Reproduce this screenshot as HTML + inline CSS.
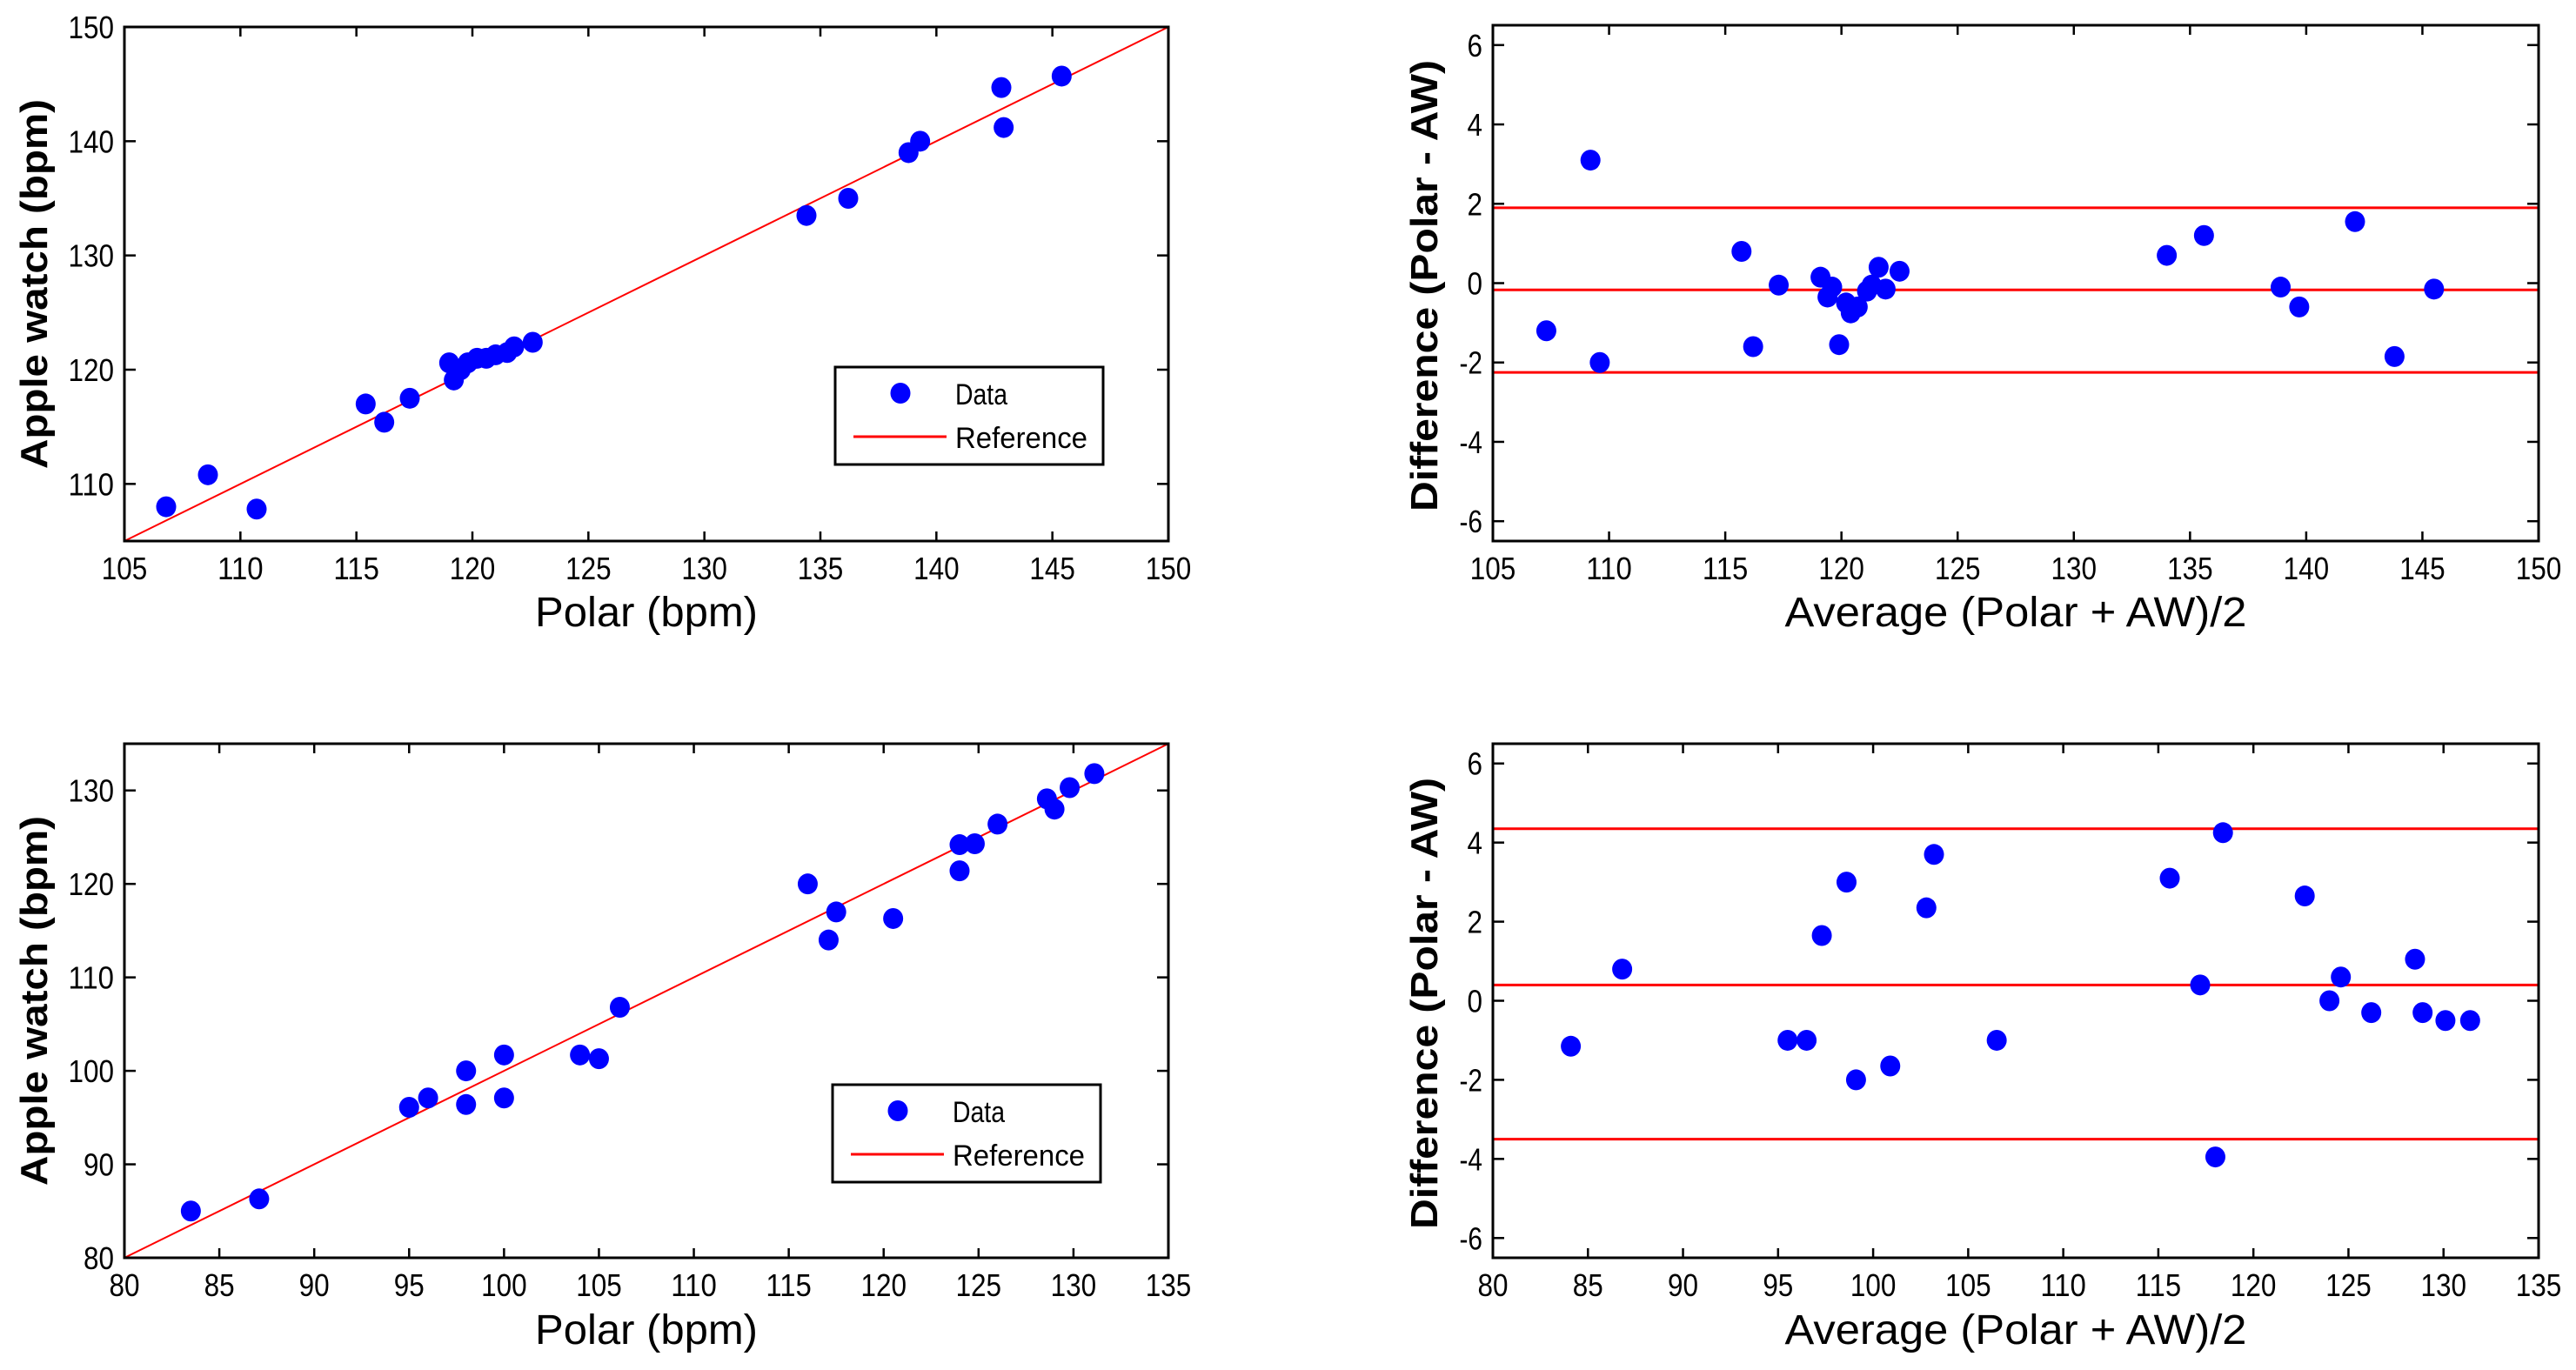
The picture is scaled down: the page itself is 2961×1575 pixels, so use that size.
<!DOCTYPE html>
<html><head><meta charset="utf-8"><style>
html,body{margin:0;padding:0;background:#fff;}
svg{display:block;}
text{font-family:"Liberation Sans Narrow","Liberation Sans",sans-serif;fill:#000;}
</style></head><body>
<svg id="fig" width="2961" height="1575" viewBox="0 0 2961 1575" xmlns="http://www.w3.org/2000/svg"></svg>
<script>
// Panel A: scatter (top)
const aPolar = [106.8,108.6,110.7,115.4,116.2,117.3,119,119.2,119.5,119.8,120.2,120.6,121,121.5,121.8,122.6,134.4,136.2,138.8,139.3,142.8,142.9,145.4];
const aWatch = [108,110.8,107.8,117,115.4,117.5,120.6,119.1,120,120.6,121,121,121.3,121.5,122,122.4,133.5,135,139,140,144.7,141.2,145.7];
// Panel B: Bland-Altman (top)
const bAvg = [107.3,109.2,109.6,115.7,116.2,117.3,119.1,119.4,119.6,119.9,120.2,120.4,120.7,121.1,121.3,121.6,121.9,122.5,134,135.6,138.9,139.7,142.1,143.8,145.5];
const bDiff = [-1.2,3.1,-2,0.8,-1.6,-0.05,0.15,-0.35,-0.1,-1.55,-0.5,-0.75,-0.6,-0.2,-0.05,0.4,-0.15,0.3,0.7,1.2,-0.1,-0.6,1.55,-1.85,-0.15];
const bLines = [1.9,-0.17,-2.25];
// Panel C: scatter (bottom)
const cPolar = [83.5,87.1,95,96,98,98,100,100,104,105,106.1,116,117.1,117.5,120.5,124,124,124.8,126,128.6,129,129.8,131.1];
const cWatch = [85,86.3,96.1,97.1,100,96.4,101.7,97.1,101.7,101.3,106.8,120,114,117,116.3,124.2,121.4,124.3,126.4,129.1,128,130.3,131.8];
// Panel D: Bland-Altman (bottom)
const dAvg = [84.1,86.8,95.5,96.5,97.3,98.6,99.1,100.9,102.8,103.2,106.5,115.6,117.2,118.4,118,122.7,124,124.6,126.2,128.5,128.9,130.1,131.4];
const dDiff = [-1.15,0.8,-1,-1,1.65,3,-2,-1.65,2.35,3.7,-1,3.1,0.4,4.25,-3.95,2.65,0,0.6,-0.3,1.05,-0.3,-0.5,-0.5];
const dLines = [4.35,0.4,-3.5];
// tick labels
const xTicksTop = [105,110,115,120,125,130,135,140,145,150];
const yTicksA = [110,120,130,140,150];
const xTicksBot = [80,85,90,95,100,105,110,115,120,125,130,135];
const yTicksC = [80,90,100,110,120,130];
const yTicksBA = [-6,-4,-2,0,2,4,6];

const NS="http://www.w3.org/2000/svg";
const svg=document.getElementById('fig');
function mk(tag,attrs,parent){const e=document.createElementNS(NS,tag);for(const k in attrs)e.setAttribute(k,attrs[k]);(parent||svg).appendChild(e);return e;}

function panel(cfg){
  const g=mk('g',{});
  
  
  const L=cfg.l,R=cfg.r,T=cfg.t,B=cfg.b;
  const sx=v=>L+(v-cfg.x0)/(cfg.x1-cfg.x0)*(R-L);
  const sy=v=>B-(v-cfg.y0)/(cfg.y1-cfg.y0)*(B-T);
  cfg.xt.forEach(v=>{
    const x=sx(v);
    const t1=mk('line',{x1:x,y1:B,x2:x,y2:B-11,stroke:'#000','stroke-width':2.5},g);
    
    
    const t2=mk('line',{x1:x,y1:T,x2:x,y2:T+11,stroke:'#000','stroke-width':2.5},g);
    
    
    const s=String(v);
    const tx=mk('text',{x:x,y:B+44,'font-size':36,'text-anchor':'middle',textLength:s.length*17.5,lengthAdjust:'spacingAndGlyphs'},g);
    tx.textContent=s;
    
    
  });
  cfg.yt.forEach(v=>{
    const y=sy(v);
    const t1=mk('line',{x1:L,y1:y,x2:L+13,y2:y,stroke:'#000','stroke-width':2.5},g);
    
    
    const t2=mk('line',{x1:R,y1:y,x2:R-13,y2:y,stroke:'#000','stroke-width':2.5},g);
    
    
    const s=String(v);
    const w=s.replace('-','').length*17.5+(s[0]==='-'?9:0);
    const ty=mk('text',{x:L-12,y:y+13,'font-size':36,'text-anchor':'end',textLength:w,lengthAdjust:'spacingAndGlyphs'},g);
    ty.textContent=s;
    
    
  });
  if(cfg.ref){
    const l=mk('line',{x1:sx(cfg.x0),y1:sy(cfg.x0),x2:sx(cfg.x1),y2:sy(cfg.x1),stroke:'#ff0000','stroke-width':2},g);
    
    
  }
  if(cfg.hl){
    cfg.hl.forEach(v=>{
      const l=mk('line',{x1:L,y1:sy(v),x2:R,y2:sy(v),stroke:'#ff0000','stroke-width':3},g);
      
      
    });
  }
  cfg.xs.forEach((xv,i)=>{
    const c=mk('ellipse',{cx:sx(xv),cy:sy(cfg.ys[i]),rx:11.5,ry:12,fill:'#0000ff'},g);
    
    
  });
  const box=mk('rect',{x:L,y:T,width:R-L,height:B-T,fill:'none',stroke:'#000','stroke-width':3},g);
  
  
  const xt=mk('text',{x:(L+R)/2,y:cfg.xty,'font-size':48,'text-anchor':'middle',textLength:cfg.xtw,lengthAdjust:'spacingAndGlyphs'},g);
  xt.textContent=cfg.xtitle;
  
  
  const yt=mk('text',{x:0,y:0,'font-size':44,'font-weight':'bold','text-anchor':'middle',textLength:cfg.ytw,lengthAdjust:'spacingAndGlyphs',transform:`translate(${cfg.ytx},${(T+B)/2+cfg.ytdy}) rotate(-90)`},g);
  yt.setAttribute('style','font-family:"Liberation Sans",sans-serif');
  yt.textContent=cfg.ytitle;
  
  
  if(cfg.leg){
    const lg=cfg.leg;
    const lgG=mk('g',{},g);
    
    
    mk('rect',{x:lg.x,y:lg.y,width:308,height:112,fill:'#fff',stroke:'#000','stroke-width':3},lgG);
    const m=mk('ellipse',{cx:lg.x+75,cy:lg.y+30,rx:11.5,ry:12,fill:'#0000ff'},lgG);
    
    
    const t1=mk('text',{x:lg.x+138,y:lg.y+43,'font-size':34,textLength:60,lengthAdjust:'spacingAndGlyphs'},lgG);
    t1.textContent='Data';
    
    
    const ln=mk('line',{x1:lg.x+21,y1:lg.y+80,x2:lg.x+128,y2:lg.y+80,stroke:'#ff0000','stroke-width':3},lgG);
    
    
    const t2=mk('text',{x:lg.x+138,y:lg.y+93,'font-size':34,textLength:152,lengthAdjust:'spacingAndGlyphs'},lgG);
    t2.textContent='Reference';
    
    
  }
}

panel({name:'scatter-top',l:143,r:1343,t:31,b:622,x0:105,x1:150,y0:105,y1:150,xt:xTicksTop,yt:yTicksA,xs:aPolar,ys:aWatch,ref:true,
  xtitle:'Polar (bpm)',xty:720,xtw:256,ytitle:'Apple watch (bpm)',ytx:54,ytw:425,ytdy:0,leg:{x:960,y:422}});
panel({name:'bland-altman-top',l:1716,r:2918,t:29,b:622,x0:105,x1:150,y0:-6.5,y1:6.5,xt:xTicksTop,yt:yTicksBA,xs:bAvg,ys:bDiff,hl:bLines,
  xtitle:'Average (Polar + AW)/2',xty:720,xtw:531,ytitle:'Difference (Polar - AW)',ytx:1652,ytw:519,ytdy:3});
panel({name:'scatter-bottom',l:143,r:1343,t:855,b:1446,x0:80,x1:135,y0:80,y1:135,xt:xTicksBot,yt:yTicksC,xs:cPolar,ys:cWatch,ref:true,
  xtitle:'Polar (bpm)',xty:1545,xtw:256,ytitle:'Apple watch (bpm)',ytx:54,ytw:425,ytdy:0,leg:{x:957,y:1247}});
panel({name:'bland-altman-bottom',l:1716,r:2918,t:855,b:1446,x0:80,x1:135,y0:-6.5,y1:6.5,xt:xTicksBot,yt:yTicksBA,xs:dAvg,ys:dDiff,hl:dLines,
  xtitle:'Average (Polar + AW)/2',xty:1545,xtw:531,ytitle:'Difference (Polar - AW)',ytx:1652,ytw:519,ytdy:3});
</script>
</body></html>
